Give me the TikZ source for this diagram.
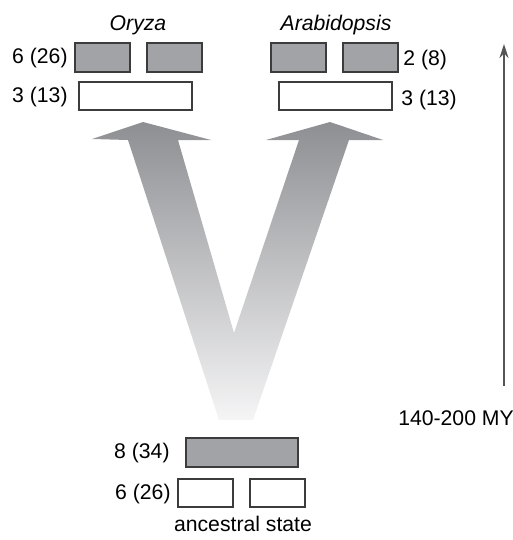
\documentclass[tikz,border=0pt]{standalone}
\usepackage{fontspec}
\setmainfont{Liberation Sans}
\usetikzlibrary{arrows.meta}
\definecolor{boxgrey}{HTML}{A2A3A6}
\definecolor{edgegrey}{HTML}{3C3C3C}
\definecolor{vtop}{HTML}{8E8F93}
\definecolor{vbot}{HTML}{F5F5F6}
\definecolor{axisgrey}{HTML}{555555}
\begin{document}
\begin{tikzpicture}[x=0.5pt,y=-0.5pt,
  lbl/.style={font=\fontsize{10.6}{12}\selectfont, inner sep=0pt},
  greybox/.style={draw=edgegrey, fill=boxgrey, line width=0.6pt},
  whitebox/.style={draw=edgegrey, fill=white, line width=0.6pt}]
\useasboundingbox (0,0) rectangle (513,540);
% V-shaped double arrow
\path[shading=axis, top color=vtop, bottom color=vbot, shading angle=0]
  (219,420) -- (128,140) -- (92,139) -- (143,122) -- (211,140) -- (178,140)
  -- (234,333) -- (299,140) -- (266,140) -- (330,122) -- (383,140)
  -- (349,140) -- (253,420) -- cycle;
% top boxes
\draw[greybox] (75,43) rectangle (130,72) coordinate (og1);
\draw[greybox] (147,43) rectangle (202,72) coordinate (og2);
\draw[greybox] (271,43) rectangle (326,72) coordinate (ag1);
\draw[greybox] (343,43) rectangle (398,72) coordinate (ag2);
\draw[whitebox] (79,82) rectangle (192,110) coordinate (ow);
\draw[whitebox] (279,82) rectangle (392,110) coordinate (aw);
% bottom boxes
\draw[greybox] (186,438) rectangle (298,467) coordinate (bg);
\draw[whitebox] (178,479) rectangle (233,507) coordinate (bw1);
\draw[whitebox] (250,479) rectangle (305,507) coordinate (bw2);
% labels
\node[lbl] (oryza) at (138,25) {\itshape Oryza};
\node[lbl] (arab) at (336,25) {\itshape Arabidopsis};
\node[lbl, anchor=east] (l1) at (68,58) {6 (26)};
\node[lbl, anchor=east] (l2) at (68,97) {3 (13)};
\node[lbl, anchor=west] (r1) at (403,60) {2 (8)};
\node[lbl, anchor=west] (r2) at (401,100) {3 (13)};
\node[lbl, anchor=east] (b1) at (170,453) {8 (34)};
\node[lbl, anchor=east] (b2) at (171,494) {6 (26)};
\node[lbl] (anc) at (243,524) {ancestral state};
\node[lbl] (my) at (456,418) {140-200 MY};
% time axis
\coordinate (ax0) at (504,386);
\coordinate (ax1) at (504,44);
\draw[axisgrey, line width=0.9pt, -{Stealth[length=7pt,width=4.5pt]}] (ax0) -- (ax1);
\end{tikzpicture}
\end{document}
